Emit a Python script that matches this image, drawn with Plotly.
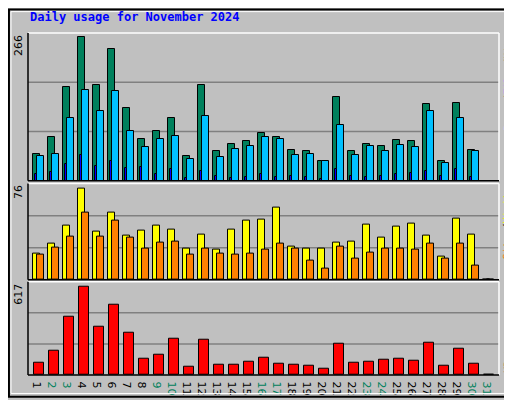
import plotly.graph_objects as go

days = list(range(1, 32))
hits = [50, 81, 173, 266, 177, 244, 134, 77, 92, 115, 45, 177, 54, 68, 74, 88, 81, 56, 54, 37,
        154, 54, 68, 65, 76, 74, 141, 36, 144, 57, 0]
files = [45, 50, 115, 168, 128, 166, 92, 63, 77, 83, 41, 119, 43, 59, 65, 81, 77, 47, 50, 36,
         103, 47, 65, 54, 66, 63, 128, 32, 115, 54, 0]
pages = [12, 16, 30, 47, 27, 36, 23, 25, 12, 21, 5, 18, 8, 5, 7, 12, 7, 8, 7, 3,
         21, 8, 7, 8, 12, 14, 18, 8, 21, 7, 0]
visits = [22, 30, 45, 76, 40, 56, 37, 41, 45, 42, 26, 38, 25, 42, 49, 50, 60, 28, 26, 26,
          31, 32, 46, 35, 44, 47, 37, 19, 51, 38, 0]
sites = [21, 27, 36, 56, 36, 49, 35, 26, 31, 32, 21, 26, 22, 21, 22, 25, 30, 26, 16, 9,
         28, 18, 23, 26, 26, 25, 30, 18, 30, 12, 0]
kbytes = [88, 170, 407, 617, 339, 488, 292, 115, 142, 251, 61, 244, 75, 75, 95, 122, 81, 75, 68, 47,
          217, 88, 95, 108, 115, 102, 224, 68, 183, 81, 0]
weekends = [2, 3, 9, 10, 16, 17, 23, 24, 30, 31]

W, H = 512, 400
L, R, T, B = 20, 21, 25, 23
pw, ph = W - L - R, H - T - B
px = 1 / 15  # one pixel in day units

fig = go.Figure()
line = dict(color="black", width=1)


def bar(y, color, axis, off, width):
    fig.add_trace(go.Bar(x=days, y=y, marker=dict(color=color, line=line), offset=off,
                         width=width, xaxis="x", yaxis=axis, showlegend=False))


bar(hits, "#00805C", "y", 0, 7 * px)
bar(files, "#00C0FF", "y", 4 * px, 7 * px)
bar(pages, "#0000FF", "y", 2 * px, 2 * px)
bar(visits, "#FFFF00", "y2", 0, 7 * px)
bar(sites, "#FF8000", "y2", 4 * px, 7 * px)
bar(kbytes, "#FF0000", "y3", 1 * px, 10 * px)


def dom(top, bot):
    return [(T + ph - bot) / ph, (T + ph - top) / ph]


ticktext = [f"<span style='color:#00805C'>{d}</span>" if d in weekends else str(d) for d in days]
x0 = 1 - 5 * px
fig.update_layout(
    width=W, height=H, margin=dict(l=L, r=R, t=T, b=B),
    paper_bgcolor="#C0C0C0", plot_bgcolor="#C0C0C0", bargap=0,
    font=dict(family="DejaVu Sans Mono", size=11, color="black"),
    xaxis=dict(range=[x0, x0 + pw * px], tickvals=[d + 5.5 * px for d in days], ticktext=ticktext,
               anchor="y3", showgrid=False, zeroline=False, ticks="",
               tickfont=dict(family="DejaVu Sans", size=11)),
    yaxis=dict(domain=dom(25, 177), range=[0, 273], visible=False),
    yaxis2=dict(domain=dom(180, 279), range=[0, 80], visible=False),
    yaxis3=dict(domain=dom(281, 377), range=[0, 651], visible=False),
)

shapes = []
for ax in ["y", "y2", "y3"]:
    for f in (1 / 3, 2 / 3):
        shapes.append(dict(type="line", xref="x domain", yref=f"{ax} domain", x0=0, x1=1, y0=f, y1=f,
                           line=dict(color="#808080", width=1.5), layer="below"))
    shapes.append(dict(type="line", xref="x domain", yref=f"{ax} domain", x0=0, x1=1, y0=1, y1=1,
                       line=dict(color="white", width=1.5)))
    shapes.append(dict(type="line", xref="x domain", yref=f"{ax} domain", x0=1, x1=1, y0=0, y1=1,
                       line=dict(color="white", width=1.5)))
    shapes.append(dict(type="line", xref="x domain", yref=f"{ax} domain", x0=0, x1=0, y0=0, y1=1,
                       line=dict(color="black", width=1.5)))
    shapes.append(dict(type="line", xref="x domain", yref=f"{ax} domain", x0=0, x1=1, y0=0, y1=0,
                       line=dict(color="black", width=1.5)))
# outer frame
shapes.append(dict(type="rect", xref="paper", yref="paper", x0=-L / pw + 0.002, x1=1 + R / pw - 0.002,
                   y0=-B / ph + 0.002, y1=1 + T / ph - 0.002, line=dict(color="black", width=2)))
shapes.append(dict(type="rect", xref="paper", yref="paper", x0=-(L - 3) / pw, x1=1 + (R - 4) / pw,
                   y0=-(B - 4) / ph, y1=1 + (T - 3) / ph, line=dict(color="white", width=1)))
fig.update_layout(shapes=shapes)

rx = 1 + 9 / pw
ann = [
    dict(text="<b>Daily usage for November 2024</b>", xref="paper", yref="paper", x=0, y=1 + 16 / ph,
         xanchor="left", yanchor="middle", showarrow=False, font=dict(color="#0000FF", size=12)),
    dict(text="266", xref="paper", yref="y domain", x=-1 / pw, y=1, textangle=-90, xanchor="right",
         yanchor="top", showarrow=False, font=dict(family="DejaVu Sans", size=11)),
    dict(text="76", xref="paper", yref="y2 domain", x=-1 / pw, y=1, textangle=-90, xanchor="right",
         yanchor="top", showarrow=False, font=dict(family="DejaVu Sans", size=11)),
    dict(text="617", xref="paper", yref="y3 domain", x=-1 / pw, y=1, textangle=-90, xanchor="right",
         yanchor="top", showarrow=False, font=dict(family="DejaVu Sans", size=11)),
    dict(text="<span style='color:#00C0FF'>Pages</span>/<span style='color:#0000FF'>Files</span>/"
              "<span style='color:#00805C'>Hits</span>",
         xref="paper", yref="y domain", x=rx, y=1, textangle=-90, xanchor="center", yanchor="top",
         showarrow=False, font=dict(size=10)),
    dict(text="<span style='color:#FF8000'>Sites</span>/<span style='color:#FFFF00'>Visits</span>",
         xref="paper", yref="y2 domain", x=rx, y=0.98, textangle=-90, xanchor="center", yanchor="top",
         showarrow=False, font=dict(size=10)),
    dict(text="<span style='color:#FF0000'>KBytes</span>",
         xref="paper", yref="y3 domain", x=rx, y=0, textangle=-90, xanchor="center", yanchor="bottom",
         showarrow=False, font=dict(size=10)),
]
fig.update_layout(annotations=ann)

fig.write_html("out.html")
